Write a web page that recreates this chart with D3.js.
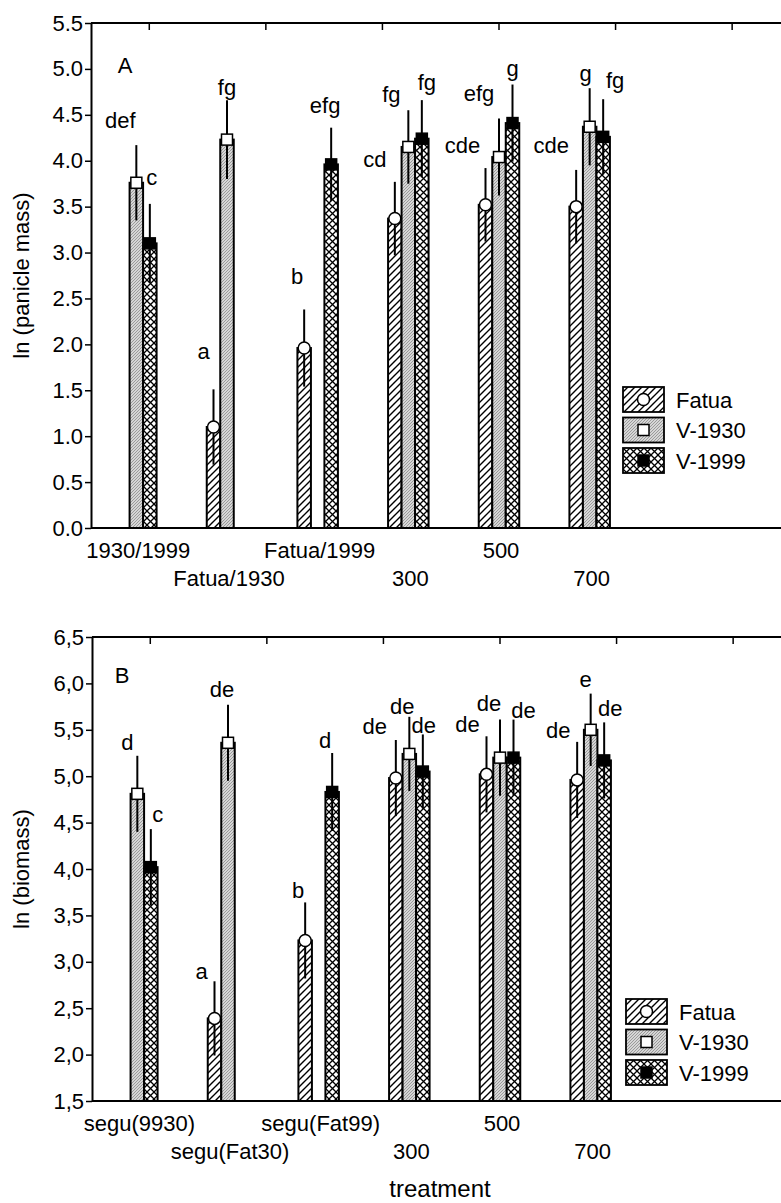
<!DOCTYPE html>
<html>
<head>
<meta charset="utf-8">
<script src="https://cdn.jsdelivr.net/npm/d3@7"></script>
<style>
  html, body { margin: 0; padding: 0; background: #fff; }
  svg text { font-family: "Liberation Sans", Arial, sans-serif; fill: #000; }
</style>
</head>
<body>
<svg id="chart"></svg>
<script>
const series = ["Fatua", "V-1930", "V-1999"];
const treatmentsA = ["1930/1999", "Fatua/1930", "Fatua/1999", "300", "500", "700"];
const treatmentsB = ["segu(9930)", "segu(Fat30)", "segu(Fat99)", "300", "500", "700"];
const yTicksA = [0, 0.5, 1, 1.5, 2, 2.5, 3, 3.5, 4, 4.5, 5, 5.5];
const yTicksB = [1.5, 2, 2.5, 3, 3.5, 4, 4.5, 5, 5.5, 6, 6.5];

// panel A : ln (panicle mass)
const fatuaA = [null, 1.10, 1.96, 3.37, 3.52, 3.50];
const v1930A = [3.76, 4.23, null, 4.15, 4.04, 4.37];
const v1999A = [3.10, null, 3.96, 4.24, 4.41, 4.26];
const fatuaSeA = [null, 0.41, 0.42, 0.40, 0.40, 0.40];
const v1930SeA = [0.41, 0.43, null, 0.40, 0.42, 0.42];
const v1999SeA = [0.43, null, 0.40, 0.42, 0.42, 0.41];
const fatuaLetA = [null, "a", "b", "cd", "cde", "cde"];
const v1930LetA = ["def", "fg", null, "fg", "efg", "g"];
const v1999LetA = ["c", null, "efg", "fg", "g", "fg"];

// panel B : ln (biomass)
const fatuaB = [null, 2.39, 3.23, 4.98, 5.02, 4.96];
const v1930B = [4.81, 5.36, null, 5.24, 5.20, 5.50];
const v1999B = [4.02, null, 4.83, 5.05, 5.20, 5.17];
const fatuaSeB = [null, 0.40, 0.41, 0.41, 0.41, 0.41];
const v1930SeB = [0.41, 0.41, null, 0.40, 0.41, 0.39];
const v1999SeB = [0.41, null, 0.42, 0.40, 0.41, 0.41];
const fatuaLetB = [null, "a", "b", "de", "de", "de"];
const v1930LetB = ["d", "de", null, "de", "de", "e"];
const v1999LetB = ["c", null, "d", "de", "de", "de"];

// hand placement of the letters (px from bar centre / error bar top)
const nudgeA = [
  [null, [-10, -30], [-7, -25], [-20, -15], [-23, -15], [-25, -17]],
  [[-16, -17], [0, -5], null, [-17, -8], [-20, -17], [-4, -7]],
  [[2, -19], null, [-6, -15], [5, -10], [0, -9], [12, -11]]
];
const nudgeB = [
  [null, [-13, -2], [-7, -4], [-21, -6], [-19, -4], [-19, -4]],
  [[-10, -6], [-6, -8], null, [-7, -3], [-11, -9], [-5, -7]],
  [[7, -7], null, [-7, -5], [1, -1], [10, -2], [6, -6]]
];

const W = 781, H = 1203;
const svg = d3.select("#chart").attr("width", W).attr("height", H);
svg.append("rect").attr("width", W).attr("height", H).attr("fill", "#fff");

const defs = svg.append("defs");
const hatch = defs.append("pattern").attr("id", "p-Fatua")
  .attr("patternUnits", "userSpaceOnUse").attr("width", 7).attr("height", 7);
hatch.append("rect").attr("width", 7).attr("height", 7).attr("fill", "#fff");
hatch.append("path").attr("d", "M-1,8L8,-1M-1,1L1,-1M6,8L8,6")
  .attr("stroke", "#000").attr("stroke-width", 1.4);

const gray = defs.append("pattern").attr("id", "p-V-1930")
  .attr("patternUnits", "userSpaceOnUse").attr("width", 3).attr("height", 3);
gray.append("rect").attr("width", 3).attr("height", 3).attr("fill", "#d6d6d6");
gray.append("path").attr("d", "M-1,4L4,-1")
  .attr("stroke", "#8a8a8a").attr("stroke-width", 0.8);

const cross = defs.append("pattern").attr("id", "p-V-1999")
  .attr("patternUnits", "userSpaceOnUse").attr("width", 7).attr("height", 7);
cross.append("rect").attr("width", 7).attr("height", 7).attr("fill", "#fff");
cross.append("path").attr("d", "M0,0L7,7M0,7L7,0")
  .attr("stroke", "#000").attr("stroke-width", 1.3);

function drawMarker(g, s, x, y) {
  if (s === "Fatua") {
    g.append("circle").attr("cx", x).attr("cy", y).attr("r", 6)
      .attr("fill", "#fff").attr("stroke", "#000").attr("stroke-width", 1.5);
  } else {
    g.append("rect").attr("x", x - 5.5).attr("y", y - 5.5)
      .attr("width", 11).attr("height", 11)
      .attr("fill", s === "V-1930" ? "#fff" : "#000")
      .attr("stroke", "#000").attr("stroke-width", 1.5);
  }
}

function drawPanel(cfg) {
  const g = svg.append("g");
  const plotRight = cfg.left + 816;

  const y = d3.scaleLinear().domain(cfg.domain).range([cfg.bottom, cfg.top]);
  const x = d3.scaleBand().domain(d3.range(9)).range([cfg.left, plotRight]);
  const xTop = d3.scaleBand().domain(d3.range(7)).range([cfg.left, plotRight]);
  const inner = d3.scaleBand().domain(series).range([-20.25, 20.25]);

  const values = [cfg.fatua, cfg.v1930, cfg.v1999];
  const ses = [cfg.fatuaSe, cfg.v1930Se, cfg.v1999Se];
  const letters = [cfg.fatuaLet, cfg.v1930Let, cfg.v1999Let];

  // bars
  cfg.treatments.forEach((t, i) => {
    const cx = x(i) + x.bandwidth() / 2;
    series.forEach((s, k) => {
      const v = values[k][i];
      if (v == null) return;
      g.append("rect")
        .attr("x", cx + inner(s)).attr("width", inner.bandwidth())
        .attr("y", y(v)).attr("height", y(cfg.domain[0]) - y(v))
        .attr("fill", `url(#p-${s})`)
        .attr("stroke", "#000").attr("stroke-width", 2);
    });
  });

  // error bars, markers, letters
  cfg.treatments.forEach((t, i) => {
    const cx = x(i) + x.bandwidth() / 2;
    series.forEach((s, k) => {
      const v = values[k][i];
      if (v == null) return;
      const bx = cx + inner(s) + inner.bandwidth() / 2;
      const se = ses[k][i];
      g.append("line").attr("x1", bx).attr("x2", bx)
        .attr("y1", y(v - se)).attr("y2", y(v + se))
        .attr("stroke", "#000").attr("stroke-width", 2);
      drawMarker(g, s, bx, y(v));
      const nd = cfg.nudge[k][i];
      g.append("text").attr("x", bx + nd[0]).attr("y", y(v + se) + nd[1])
        .attr("text-anchor", "middle").attr("font-size", 22)
        .text(letters[k][i]);
    });
  });

  // frame
  g.append("line").attr("x1", cfg.left).attr("x2", plotRight)
    .attr("y1", cfg.top).attr("y2", cfg.top)
    .attr("stroke", "#000").attr("stroke-width", 2);
  g.append("line").attr("x1", cfg.left).attr("x2", plotRight)
    .attr("y1", cfg.bottom).attr("y2", cfg.bottom)
    .attr("stroke", "#000").attr("stroke-width", 2);
  d3.range(7).forEach(k => {
    const tx = xTop(k) + xTop.bandwidth() / 2;
    g.append("line").attr("x1", tx).attr("x2", tx)
      .attr("y1", cfg.top).attr("y2", cfg.top + 7)
      .attr("stroke", "#000").attr("stroke-width", 1.5);
  });

  const yAxis = g.append("g").attr("transform", `translate(${cfg.left},0)`)
    .call(d3.axisLeft(y).tickValues(cfg.yTicks).tickSize(6).tickSizeOuter(0)
      .tickPadding(2).tickFormat(cfg.fmt));
  yAxis.select(".domain").attr("stroke-width", 2);
  yAxis.selectAll(".tick line").attr("stroke-width", 1.5);
  yAxis.selectAll(".tick text").attr("font-size", 22)
    .attr("font-family", "Liberation Sans, Arial, sans-serif").attr("fill", "#000");

  // staggered category labels
  cfg.treatments.forEach((t, i) => {
    const cx = x(i) + x.bandwidth() / 2;
    g.append("text").attr("x", cx + 2)
      .attr("y", cfg.bottom + (i % 2 === 0 ? 29.5 : 58))
      .attr("text-anchor", "middle").attr("font-size", 22).text(t);
  });

  g.append("text").attr("x", cfg.letterX).attr("y", cfg.top + cfg.letterDy)
    .attr("text-anchor", "middle").attr("font-size", 22).text(cfg.letter);

  g.append("text")
    .attr("transform", `translate(29,${(cfg.top + cfg.bottom) / 2}) rotate(-90)`)
    .attr("text-anchor", "middle").attr("font-size", 22).text(cfg.yTitle);

  // legend
  series.forEach((s, k) => {
    const ly = cfg.legendY + k * 30.5;
    g.append("rect").attr("x", cfg.legendX).attr("y", ly)
      .attr("width", 41).attr("height", 25)
      .attr("fill", `url(#p-${s})`).attr("stroke", "#000").attr("stroke-width", 1.8);
    drawMarker(g, s, cfg.legendX + 20.5, ly + 12.5);
    g.append("text").attr("x", cfg.legendX + 53).attr("y", ly + 20.5)
      .attr("font-size", 22).text(s);
  });
}

drawPanel({
  left: 91, top: 23, bottom: 528, domain: [0, 5.5], yTicks: yTicksA,
  fmt: d3.format(".1f"), treatments: treatmentsA,
  fatua: fatuaA, v1930: v1930A, v1999: v1999A,
  fatuaSe: fatuaSeA, v1930Se: v1930SeA, v1999Se: v1999SeA,
  fatuaLet: fatuaLetA, v1930Let: v1930LetA, v1999Let: v1999LetA,
  nudge: nudgeA, letter: "A", letterX: 125, letterDy: 49.5,
  yTitle: "ln (panicle mass)", legendX: 623, legendY: 387
});

drawPanel({
  left: 92, top: 637, bottom: 1101, domain: [1.5, 6.5], yTicks: yTicksB,
  fmt: d => d3.format(".1f")(d).replace(".", ","), treatments: treatmentsB,
  fatua: fatuaB, v1930: v1930B, v1999: v1999B,
  fatuaSe: fatuaSeB, v1930Se: v1930SeB, v1999Se: v1999SeB,
  fatuaLet: fatuaLetB, v1930Let: v1930LetB, v1999Let: v1999LetB,
  nudge: nudgeB, letter: "B", letterX: 122, letterDy: 45.5,
  yTitle: "ln (biomass)", legendX: 626, legendY: 999
});

svg.append("text").attr("x", 440).attr("y", 1197)
  .attr("text-anchor", "middle").attr("font-size", 24).text("treatment");
</script>
</body>
</html>
